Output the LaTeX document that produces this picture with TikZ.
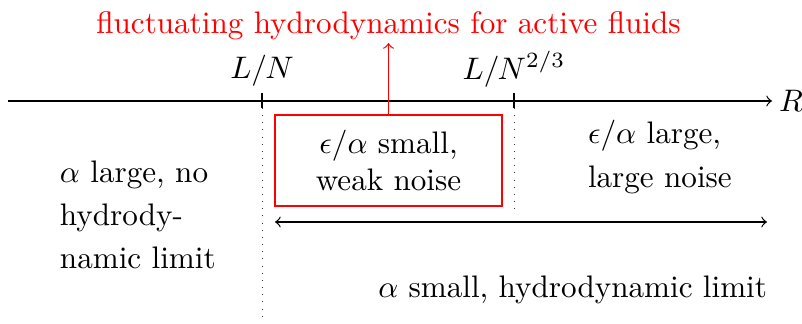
\documentclass[tikz,border=0pt]{standalone}
\usetikzlibrary{calc}
\begin{document}
\begin{tikzpicture}[x=0.3212pt,y=-0.3212pt,
  lbl/.style={inner sep=0pt, outer sep=0pt},
  tickmark/.style={line width=0.4pt},
  guide/.style={dotted, line width=0.3pt, black!80},
  redbox/.style={draw=red, line width=0.4pt, minimum width=72.9pt, minimum height=29.2pt, align=center, inner sep=0pt, font={\fontsize{10}{11.8}\selectfont}}]
\useasboundingbox (0,0) rectangle (802,324);
% axis
\coordinate (ax0) at (8,101);
\coordinate (ax1) at (772,101);
\draw[->] (ax0) -- (ax1);
\node[lbl, anchor=west] (R) at (779,101) {$R$};
% ticks
\coordinate (t1a) at (262,93);
\coordinate (t1b) at (262,108);
\coordinate (t2a) at (514,93);
\coordinate (t2b) at (514,108);
\draw[tickmark] (t1a) -- (t1b);
\draw[tickmark] (t2a) -- (t2b);
\node[lbl, anchor=base] (LN) at (262,78) {$L/N$};
\node[lbl, anchor=base] (LN2) at (514,79) {$L/N^{2/3}$};
% dotted guides
\coordinate (d1) at (262,322);
\coordinate (d2) at (514,210);
\draw[guide] (t1b) -- (d1);
\draw[guide] (t2b) -- (d2);
% red box and title
\node[redbox] (box) at (388.5,160.5) {$\epsilon/\alpha$ small,\\ weak noise};
\node[lbl, red, anchor=base] (title) at (388.5,33) {fluctuating hydrodynamics for active fluids};
\coordinate (tip) at (388.5,43);
\draw[red,->] (box.north -| tip) -- (tip);
% right text (base anchor = last line)
\node[lbl, anchor=base west, align=left, font={\fontsize{10}{14.1}\selectfont}] (large) at (588,187) {$\epsilon/\alpha$ large,\\ large noise};
% left text
\node[lbl, anchor=base west, align=left, font={\fontsize{10}{13.7}\selectfont}] (left) at (60,268) {$\alpha$ large, no\\ hydrody-\\ namic limit};
% double arrow
\coordinate (h0) at (275,222);
\coordinate (h1) at (767,222);
\draw[<->] (h0) -- (h1);
\node[lbl, anchor=base east] (small) at (767,297) {$\alpha$ small, hydrodynamic limit};
\end{tikzpicture}
\end{document}
